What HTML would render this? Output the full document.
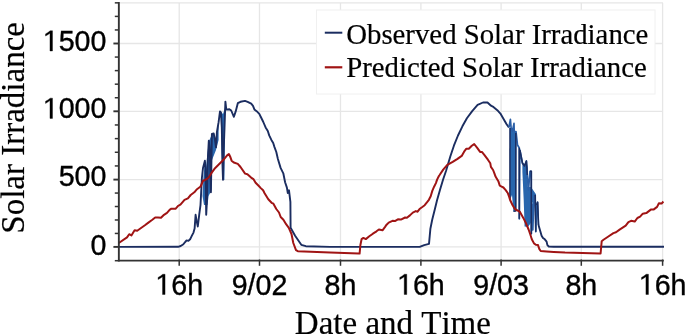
<!DOCTYPE html>
<html><head><meta charset="utf-8"><style>
html,body{margin:0;padding:0;background:#fff;}
body{width:685px;height:335px;overflow:hidden;}
svg{display:block;will-change:transform;}
.sans{font-family:"Liberation Sans",sans-serif;font-size:28.6px;fill:#000;stroke:#000;stroke-width:0.35px;}
.serif{font-family:"Liberation Serif",serif;fill:#000;stroke:#000;stroke-width:0.2px;font-kerning:none;}
</style></head><body>
<svg width="685" height="335" viewBox="0 0 685 335">
<g stroke="#e6e6e6" stroke-width="1.3" fill="none">
<line x1="120" x2="663" y1="246.90" y2="246.90"/>
<line x1="120" x2="663" y1="179.60" y2="179.60"/>
<line x1="120" x2="663" y1="111.30" y2="111.30"/>
<line x1="120" x2="663" y1="43.50" y2="43.50"/>
<line x1="120" x2="663" y1="2.85" y2="2.85"/>
<line x1="179.20" x2="179.20" y1="3" y2="260"/>
<line x1="259.50" x2="259.50" y1="3" y2="260"/>
<line x1="340.50" x2="340.50" y1="3" y2="260"/>
<line x1="420.90" x2="420.90" y1="3" y2="260"/>
<line x1="501.10" x2="501.10" y1="3" y2="260"/>
<line x1="581.30" x2="581.30" y1="3" y2="260"/>
<line x1="662.60" x2="662.60" y1="3" y2="260"/>
</g>
<rect x="316.5" y="10" width="338.5" height="84" fill="#fff" stroke="#f0f0f0" stroke-width="1"/>
<polygon points="202.5,196 203.5,176 205,161 206,168 207.8,150 209,141 212,134 214,134 216,142 217,133 218.6,123 218.6,140 216,150 212,160 211.5,190 208.6,196 207.5,205 204,205" fill="#2866ad"/>
<polygon points="221,112 223,114 225,108 225,128 224.4,180 222.6,180 221.5,150" fill="#2866ad"/>
<polygon points="509.8,128 511.1,128 512.5,131 516,131.5 516.5,140 516.2,211 513.4,211.2 512,195 510,200" fill="#2866ad"/>
<polygon points="522.4,163 524.5,166 526.4,161 527.8,168 527.8,187 531,187 535.8,194 535.8,200 532.2,203 532.2,221 528,227 524.6,226.4 523.7,200 522.4,172" fill="#2866ad"/>
<polyline points="119,246.9 178.1,246.8 180.7,246 183.4,244.2 185.2,242 186.6,240.4 188.4,240.9 190.1,239.3 191.9,235.7 193.5,232.6 194.6,228.6 195.6,214.8 196.5,220.2 197.8,226.5 199.2,214.8 200.5,205 201.9,178 203,168 204.9,160.7 205.6,170 206.2,214.8 207,200 207.8,160 208.8,140.7 209.8,150 210.9,192.3 211.9,134 213.7,133.5 215,140 216,147.4 216.9,132.2 218.6,122.2 220,111.4 220.9,112.3 221.8,127.5 222.5,165 223,179.8 223.7,150 224.5,128 225.4,101.6 226.3,109.6 229.4,109.2 231.2,110.5 233.9,116.8 235.7,111.4 237.8,103.2 240.5,101.8 245,100.9 247.6,101.8 251.2,103.6 253,105.8 254.4,109.4 256.6,111.2 259.3,113.9 261.1,117.5 263.3,122 265.6,127.4 267.8,131 269.2,135.4 271.4,139.9 273.2,143 274.5,147.1 276.3,152 277.9,159 280.6,167.9 283.3,173.3 285.1,182.2 286.9,187.6 287.8,193 289,190.3 290.4,201.9 290.6,227.8 295.1,235.8 301.3,244.8 305.8,246.2 330,246.9 419.7,246.9 424.2,245.1 429,243.9 430.4,228.7 432.2,219.7 434.9,209 437.1,200 440.1,189.5 443.1,179.5 446,171 450.3,156.5 453.9,145.7 458,135.5 462.4,126.3 466.9,118.3 472.2,111.1 477.6,104.9 483,102.5 487.5,102.5 491,105.7 492.8,106.6 497.3,110.2 500.4,113.6 504,119.8 506.6,124.3 508.9,127.5" fill="none" stroke="#1b2d60" stroke-width="1.9" stroke-linejoin="round"/>
<polyline points="508.9,127.5 510.4,119.4 511.1,127.9 512.5,131 514,123.4 514.2,131.5 516,131.5 517.5,145 519.3,148 519.3,218.8 519.9,150 522.4,163 524.5,166 526.4,161 527.3,175 528.5,190 530,171.3 531.3,171.3 531.3,234 532.3,204 532.8,230 534,196 535.2,195 535.8,231.7 536.7,205 537.6,202.2 538.5,225" fill="none" stroke="#2a5ea6" stroke-width="1.7" stroke-linejoin="round"/>
<polyline points="510,128 509.9,200" fill="none" stroke="#1b2d60" stroke-width="1.5" stroke-linejoin="round"/>
<polyline points="515.8,133 515.8,211 513.4,211.2" fill="none" stroke="#1b2d60" stroke-width="1.5" stroke-linejoin="round"/>
<polyline points="519.3,148 519.3,218.8" fill="none" stroke="#1b2d60" stroke-width="1.5" stroke-linejoin="round"/>
<polyline points="530,171.3 531.3,171.3 531.3,234" fill="none" stroke="#1b2d60" stroke-width="1.5" stroke-linejoin="round"/>
<polyline points="535.2,195 535.8,231.7" fill="none" stroke="#1b2d60" stroke-width="1.5" stroke-linejoin="round"/>
<polyline points="536.7,205 537.6,202.2 538.5,225" fill="none" stroke="#1b2d60" stroke-width="1.5" stroke-linejoin="round"/>
<polyline points="519.9,150 522.4,163 524.5,166 526.4,161 527.3,175" fill="none" stroke="#1b2d60" stroke-width="1.5" stroke-linejoin="round"/>
<polyline points="538.5,225 539.8,229.5 541.6,235.7 543,238 544.8,239.3 546.6,241.6 547.4,245.1 548.8,246.5 553.7,246.7 664,246.8" fill="none" stroke="#1b2d60" stroke-width="1.9" stroke-linejoin="round"/>
<polyline points="118.8,243 127,237.4 129.2,234.2 131.4,235.4 134.6,230.2 137.2,230.7 144.9,225.3 148.4,222.6 152,220 155.2,217.5 158,217.4 161,217.8 164,214.8 167,212.9 169.6,209.9 171.4,208.7 175.5,208.8 178.1,205.8 180.4,204.7 182.6,202.1 184.5,199.9 187.9,198.4 190.7,195 194.3,192.3 197,189.2 200.6,186.5 202.9,181 206.9,178.9 208.6,177.5 211.9,172.4 214.5,168.8 219,164.3 223.5,159.8 227.1,155.4 228.9,154 230.2,156.7 231.6,160.7 233.8,162.5 237.8,163.9 240.5,167 245.1,173.6 247.4,174.2 251.1,177.6 253.4,179.1 255.6,182.8 258.6,185.8 260.8,188.1 263.1,190.3 264.6,193.3 268.3,199.3 271.6,202.8 273.4,203.7 276.3,209 279,212.5 280.7,217 283.4,219.7 286.1,224.2 288.8,227.8 291.5,234 293.3,243 296,250.2 297.8,251.2 330,252.6 358.7,253.6 359.6,253.6 360.4,245 361.6,239.1 363.4,237.9 365.8,239.1 369.3,236.3 372.9,233.7 376.5,231.3 378.9,229.5 382.5,230.3 384.9,227.1 386.6,224.7 388.7,222.6 392.5,220.8 394.9,221.1 397.9,219.3 400.9,219.6 405.1,217.5 406.9,217.8 409.9,215.4 412.8,212.6 415.8,211.1 417.6,211.7 419.9,208.7 422.3,207 424.7,205.2 427.1,202.2 428.9,199.8 430.7,196.2 432.3,190.9 434.1,186.7 435.9,183.1 437.1,179.6 438.9,176 439.6,175 443.2,169.6 447.3,164.9 452.7,161.9 457.5,158.9 461.7,155.9 464.1,151.7 466.4,148.7 468.8,148.7 471.8,145.7 474.2,144 477.2,147.8 480.1,151.9 481.9,151.9 484.3,154.9 487.9,159.7 490.3,163.3 490.9,166.9 493.1,170 494.5,173.6 495.4,176.3 496.7,178.5 498.5,181.6 499.8,185.7 501.6,186.6 503.4,187.5 505.7,190.1 507.9,193.3 509.2,196.9 510.1,200 512.5,205 514.8,209 519.7,211.6 523.3,217.9 526,223.3 528.6,229.5 530.4,234.8 531.8,239.3 534,243.4 535.8,244.7 538,245.1 539.4,249.2 540.7,251 546.6,251.4 553.7,251.9 565,252.6 599.9,253.5 600.6,253.5 601.7,241.2 603.5,239.8 608,236.7 613.4,233.1 616,232.2 619.6,229.6 625.7,225.7 628.4,222.1 631.1,220.8 634.7,221.6 637.4,218 640.1,216.7 642.8,213.7 646.3,213.1 650.8,209.6 653.5,209.6 657.1,206.9 658.9,203.3 661.6,203.6 663.4,201.5" fill="none" stroke="#a01414" stroke-width="2.0" stroke-linejoin="round"/>
<g stroke="#333" fill="none">
<line x1="118.85" x2="118.85" y1="2" y2="261.6" stroke-width="1.9"/>
<line x1="117.9" x2="663.8" y1="260.7" y2="260.7" stroke-width="1.8"/>
<line x1="114.8" x2="118" y1="260.70" y2="260.70" stroke-width="1.5"/>
<line x1="113.4" x2="118" y1="246.90" y2="246.90" stroke-width="1.9"/>
<line x1="114.8" x2="118" y1="233.44" y2="233.44" stroke-width="1.5"/>
<line x1="114.8" x2="118" y1="219.98" y2="219.98" stroke-width="1.5"/>
<line x1="114.8" x2="118" y1="206.52" y2="206.52" stroke-width="1.5"/>
<line x1="114.8" x2="118" y1="193.06" y2="193.06" stroke-width="1.5"/>
<line x1="113.4" x2="118" y1="179.60" y2="179.60" stroke-width="1.9"/>
<line x1="114.8" x2="118" y1="165.94" y2="165.94" stroke-width="1.5"/>
<line x1="114.8" x2="118" y1="152.28" y2="152.28" stroke-width="1.5"/>
<line x1="114.8" x2="118" y1="138.62" y2="138.62" stroke-width="1.5"/>
<line x1="114.8" x2="118" y1="124.96" y2="124.96" stroke-width="1.5"/>
<line x1="113.4" x2="118" y1="111.30" y2="111.30" stroke-width="1.9"/>
<line x1="114.8" x2="118" y1="97.74" y2="97.74" stroke-width="1.5"/>
<line x1="114.8" x2="118" y1="84.18" y2="84.18" stroke-width="1.5"/>
<line x1="114.8" x2="118" y1="70.62" y2="70.62" stroke-width="1.5"/>
<line x1="114.8" x2="118" y1="57.06" y2="57.06" stroke-width="1.5"/>
<line x1="113.4" x2="118" y1="43.50" y2="43.50" stroke-width="1.9"/>
<line x1="114.8" x2="118" y1="29.95" y2="29.95" stroke-width="1.5"/>
<line x1="114.8" x2="118" y1="16.40" y2="16.40" stroke-width="1.5"/>
<line x1="114.8" x2="118" y1="2.85" y2="2.85" stroke-width="1.5"/>
<line x1="179.20" x2="179.20" y1="259.5" y2="265.8" stroke-width="1.5"/>
<line x1="259.50" x2="259.50" y1="259.5" y2="265.8" stroke-width="1.5"/>
<line x1="340.50" x2="340.50" y1="259.5" y2="265.8" stroke-width="1.5"/>
<line x1="420.90" x2="420.90" y1="259.5" y2="265.8" stroke-width="1.5"/>
<line x1="501.10" x2="501.10" y1="259.5" y2="265.8" stroke-width="1.5"/>
<line x1="581.30" x2="581.30" y1="259.5" y2="265.8" stroke-width="1.5"/>
<line x1="662.60" x2="662.60" y1="259.5" y2="265.8" stroke-width="1.5"/>
</g>
<g class="sans">
<g transform="translate(0,254.50) scale(1,1.03)"><text x="90.49" y="0">0</text></g>
<g transform="translate(0,186.40) scale(1,1.03)"><text x="58.68" y="0">500</text></g>
<g transform="translate(0,118.40) scale(1,1.03)"><path d="M696 0H515V1237Q360 1120 197 1040V1190Q380 1280 530 1409H696Z" transform="translate(42.78,0) scale(0.01396,-0.01396)" stroke-width="25.1"/><text x="58.68" y="0">000</text></g>
<g transform="translate(0,51.00) scale(1,1.03)"><path d="M696 0H515V1237Q360 1120 197 1040V1190Q380 1280 530 1409H696Z" transform="translate(42.78,0) scale(0.01396,-0.01396)" stroke-width="25.1"/><text x="58.68" y="0">500</text></g>
<g transform="translate(0,294.50) scale(1,1.03)"><path d="M696 0H515V1237Q360 1120 197 1040V1190Q380 1280 530 1409H696Z" transform="translate(155.34,0) scale(0.01396,-0.01396)" stroke-width="25.1"/><text x="171.25" y="0">6h</text></g>
<g transform="translate(0,294.50) scale(1,1.03)"><text x="231.67" y="0">9/02</text></g>
<g transform="translate(0,294.50) scale(1,1.03)"><text x="324.59" y="0">8h</text></g>
<g transform="translate(0,294.50) scale(1,1.03)"><path d="M696 0H515V1237Q360 1120 197 1040V1190Q380 1280 530 1409H696Z" transform="translate(397.04,0) scale(0.01396,-0.01396)" stroke-width="25.1"/><text x="412.95" y="0">6h</text></g>
<g transform="translate(0,294.50) scale(1,1.03)"><text x="473.27" y="0">9/03</text></g>
<g transform="translate(0,294.50) scale(1,1.03)"><text x="565.39" y="0">8h</text></g>
<g transform="translate(0,294.50) scale(1,1.03)"><path d="M696 0H515V1237Q360 1120 197 1040V1190Q380 1280 530 1409H696Z" transform="translate(638.74,0) scale(0.01396,-0.01396)" stroke-width="25.1"/><text x="654.65" y="0">6h</text></g>
</g>
<line x1="324.8" x2="342.3" y1="32.7" y2="32.7" stroke="#1b2d60" stroke-width="2"/>
<line x1="324.8" x2="342.3" y1="67.3" y2="67.3" stroke="#a01414" stroke-width="2.2"/>
<g class="serif" font-size="28.8">
<text transform="translate(346.2,43.6) scale(1,1.02)">Observed Solar Irradiance</text>
<text transform="translate(346.2,77.3) scale(1,1.02)">Predicted Solar Irradiance</text>
</g>
<text class="serif" font-size="33" x="392.9" y="334.4" text-anchor="middle">Date and Time</text>
<text class="serif" font-size="33" transform="translate(24.2,127.9) rotate(-90)" text-anchor="middle">Solar Irradiance</text>
</svg>
</body></html>
